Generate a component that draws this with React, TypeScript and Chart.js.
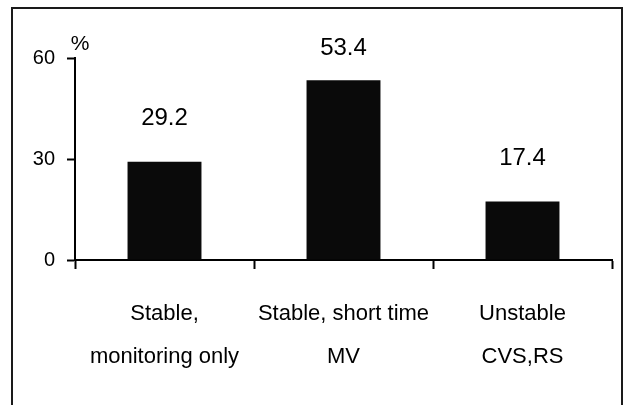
import React, { useEffect, useRef } from "react";
import { Chart, registerables } from "chart.js";

Chart.register(...registerables);

const CATEGORIES: string[][] = [
  ["Stable,", "monitoring only"],
  ["Stable, short time", "MV"],
  ["Unstable", "CVS,RS"],
];
const VALUES: number[] = [29.2, 53.4, 17.4];
const Y_MIN = 0;
const Y_MAX = 60;
const Y_STEP = 30;
const Y_UNIT = "%";

const FONT = "'Liberation Sans', Arial, Helvetica, sans-serif";

const framePlugin = {
  id: "frame",
  beforeDraw(chart: any) {
    const ctx = chart.ctx;
    ctx.save();
    ctx.fillStyle = "#ffffff";
    ctx.fillRect(0, 0, chart.width, chart.height);
    ctx.strokeStyle = "#1a1a1a";
    ctx.lineWidth = 2;
    ctx.beginPath();
    ctx.moveTo(12, chart.height + 5);
    ctx.lineTo(12, 8);
    ctx.lineTo(622, 8);
    ctx.lineTo(622, chart.height + 5);
    ctx.stroke();
    ctx.restore();
  },
};

const labelPlugin = {
  id: "valueLabels",
  afterDatasetsDraw(chart: any) {
    const ctx = chart.ctx;
    const area = chart.chartArea;
    const meta = chart.getDatasetMeta(0);
    ctx.save();
    ctx.fillStyle = "#000000";
    ctx.font = `24px ${FONT}`;
    ctx.textAlign = "center";
    ctx.textBaseline = "middle";
    meta.data.forEach((el: any, i: number) => {
      const y = Math.max(el.y - 43, area.top - 10);
      ctx.fillText(VALUES[i].toFixed(1), el.x, y);
    });
    // unit label above the y axis
    ctx.font = `21px ${FONT}`;
    ctx.fillText(Y_UNIT, area.left + 5, area.top - 14);
    ctx.restore();
  },
};

export default function App() {
  const ref = useRef<HTMLCanvasElement | null>(null);

  useEffect(() => {
    if (!ref.current) return;
    const chart = new Chart(ref.current, {
      type: "bar",
      data: {
        labels: CATEGORIES,
        datasets: [
          {
            data: VALUES,
            backgroundColor: "#0a0a0a",
            borderWidth: 0,
            categoryPercentage: 1,
            barPercentage: 0.413,
          },
        ],
      },
      options: {
        animation: false,
        responsive: false,
        events: [],
        layout: { padding: { left: 0, right: 14, top: 58, bottom: 0 } },
        plugins: {
          legend: { display: false },
          tooltip: { enabled: false },
          title: { display: false },
        },
        scales: {
          x: {
            offset: true,
            grid: {
              display: true,
              drawOnChartArea: false,
              drawTicks: true,
              tickLength: 9,
              tickWidth: 2,
              color: "#000000",
              offset: true,
            },
            border: { display: true, color: "#000000", width: 2 },
            ticks: {
              color: "#000000",
              padding: 23,
              font: { family: FONT, size: 22, lineHeight: 1.97 },
              maxRotation: 0,
              autoSkip: false,
            },
            afterFit(scale: any) {
              scale.height = 145;
            },
          },
          y: {
            min: Y_MIN,
            max: Y_MAX,
            grid: {
              display: true,
              drawOnChartArea: false,
              drawTicks: true,
              tickLength: 8,
              tickWidth: 2,
              color: "#000000",
            },
            border: { display: true, color: "#000000", width: 2 },
            ticks: {
              stepSize: Y_STEP,
              color: "#000000",
              padding: 12,
              font: { family: FONT, size: 20 },
            },
            afterFit(scale: any) {
              scale.width = 75;
            },
          },
        },
      },
      plugins: [framePlugin, labelPlugin],
    });
    return () => chart.destroy();
  }, []);

  return (
    <div style={{ position: "absolute", left: 0, top: 0, width: 626, height: 405, background: "#fff" }}>
      <canvas ref={ref} width={626} height={405} style={{ display: "block" }} />
    </div>
  );
}
